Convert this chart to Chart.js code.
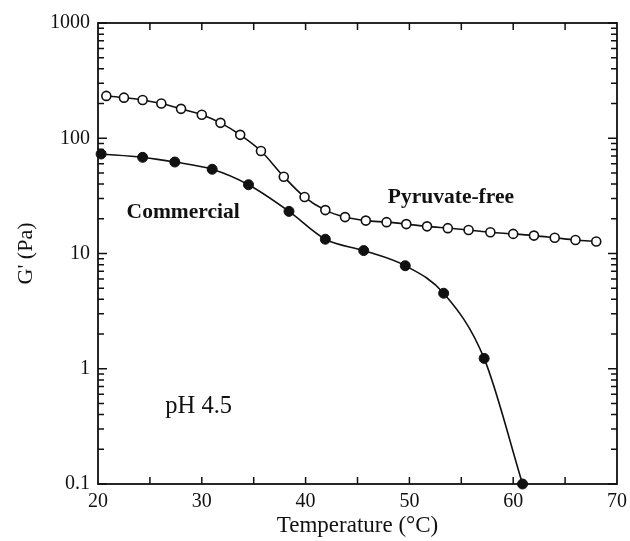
<!DOCTYPE html>
<html>
<head>
<meta charset="utf-8">
<script src="https://cdn.jsdelivr.net/npm/chart.js@4.4.1/dist/chart.umd.min.js"></script>
<style>
  html, body { margin: 0; padding: 0; background: #fff; }
  #wrap { width: 630px; height: 541px; position: relative; }
</style>
</head>
<body>
<div id="wrap"><canvas id="c" width="630" height="541"></canvas></div>
<script>
// Storage modulus G' versus temperature, pH 4.5
const pyruvateFreeTemp = [20.8, 22.5, 24.3, 26.1, 28.0, 30.0, 31.8, 33.7, 35.7, 37.9, 39.9, 41.9, 43.8,
                          45.8, 47.8, 49.7, 51.7, 53.7, 55.7, 57.8, 60.0, 62.0, 64.0, 66.0, 68.0];
const pyruvateFreeG = [233, 225, 215, 200, 180, 160, 136, 107, 77.5, 46.4, 30.9, 23.8, 20.7,
                       19.3, 18.7, 18.0, 17.2, 16.6, 16.0, 15.3, 14.8, 14.3, 13.7, 13.1, 12.7];
const commercialTemp = [20.3, 24.3, 27.4, 31.0, 34.5, 38.4, 41.9, 45.6, 49.6, 53.3, 57.2, 60.9];
const commercialG = [73, 68.3, 62.2, 53.8, 39.5, 23.2, 13.3, 10.6, 7.83, 4.52, 1.23, 0.1];

const xTickLabels = [20, 30, 40, 50, 60, 70];
const yTickLabels = [0.1, 1, 10, 100, 1000];

// text placed inside the plot, anchored in data coordinates
const notes = [
  { text: 'Commercial', x: 28.2, y: 22.9, bold: true, size: 21.5 },
  { text: 'Pyruvate-free', x: 54.0, y: 30.9, bold: true, size: 21.5 },
  { text: 'pH 4.5', x: 29.7, y: 0.466, bold: false, size: 24.5 }
];

const SERIF = '"Liberation Serif", "DejaVu Serif", serif';

function toPoints(xs, ys) { return xs.map((x, i) => ({ x: x, y: ys[i] })); }

// frame, inward tick marks on all four sides, and annotations
const framePlugin = {
  id: 'frame',
  beforeDatasetsDraw(chart) {
    const { ctx, chartArea: a, scales } = chart;
    const xs = scales.x, ys = scales.y;
    ctx.save();
    ctx.strokeStyle = '#111';
    ctx.lineWidth = 1.8;
    ctx.strokeRect(a.left, a.top, a.right - a.left, a.bottom - a.top);
    ctx.lineWidth = 1.5;
    ctx.beginPath();
    for (let t = 25; t < 70; t += 5) {
      const px = xs.getPixelForValue(t);
      ctx.moveTo(px, a.bottom); ctx.lineTo(px, a.bottom - 7);
      ctx.moveTo(px, a.top); ctx.lineTo(px, a.top + 7);
    }
    for (let e = -1; e <= 3; e++) {
      for (let m = 1; m <= 9; m++) {
        const v = m * Math.pow(10, e);
        if (v > 1000.0001) continue;
        const py = ys.getPixelForValue(v);
        const len = m === 1 ? 9 : 6;
        ctx.moveTo(a.left, py); ctx.lineTo(a.left + len, py);
        ctx.moveTo(a.right, py); ctx.lineTo(a.right - len, py);
      }
    }
    ctx.stroke();
    ctx.restore();
  },
  afterDraw(chart) {
    const { ctx, scales } = chart;
    ctx.save();
    ctx.fillStyle = '#111';
    ctx.textAlign = 'center';
    ctx.textBaseline = 'middle';
    notes.forEach(n => {
      ctx.font = (n.bold ? 'bold ' : '') + n.size + 'px ' + SERIF;
      ctx.fillText(n.text, scales.x.getPixelForValue(n.x), scales.y.getPixelForValue(n.y));
    });
    ctx.restore();
  }
};

new Chart(document.getElementById('c'), {
  type: 'line',
  data: {
    datasets: [
      {
        label: 'Pyruvate-free',
        data: toPoints(pyruvateFreeTemp, pyruvateFreeG),
        borderColor: '#111',
        borderWidth: 1.6,
        backgroundColor: '#fff',
        pointBackgroundColor: '#fff',
        pointBorderColor: '#111',
        pointBorderWidth: 1.6,
        pointRadius: 4.5,
        cubicInterpolationMode: 'monotone',
        clip: false
      },
      {
        label: 'Commercial',
        data: toPoints(commercialTemp, commercialG),
        borderColor: '#111',
        borderWidth: 1.6,
        backgroundColor: '#111',
        pointBackgroundColor: '#111',
        pointBorderColor: '#111',
        pointBorderWidth: 1,
        pointRadius: 5,
        cubicInterpolationMode: 'monotone',
        clip: false
      }
    ]
  },
  options: {
    responsive: false,
    animation: false,
    devicePixelRatio: 1,
    layout: { padding: { left: 0, top: 23, right: 13, bottom: 0 } },
    plugins: { legend: { display: false }, tooltip: { enabled: false } },
    scales: {
      x: {
        type: 'linear',
        min: 20, max: 70,
        afterBuildTicks(scale) { scale.ticks = xTickLabels.map(v => ({ value: v })); },
        afterFit(scale) {
          scale.height = 57;
          scale.paddingLeft = 0;
          scale.paddingRight = 0;
        },
        grid: { display: false, drawTicks: false },
        border: { display: false },
        ticks: {
          color: '#111',
          font: { family: SERIF, size: 20 },
          padding: 6,
          maxRotation: 0,
          autoSkip: false
        },
        title: {
          display: true,
          text: 'Temperature (°C)',
          color: '#111',
          font: { family: SERIF, size: 23 },
          padding: { top: 0, bottom: 1 }
        }
      },
      y: {
        type: 'logarithmic',
        min: 0.1, max: 1000,
        afterBuildTicks(scale) { scale.ticks = yTickLabels.map(v => ({ value: v })); },
        afterFit(scale) {
          scale.width = 98;
          scale.paddingTop = 0;
          scale.paddingBottom = 0;
        },
        grid: { display: false, drawTicks: false },
        border: { display: false },
        ticks: {
          color: '#111',
          font: { family: SERIF, size: 20 },
          padding: 8,
          autoSkip: false,
          callback: (v) => String(v)
        },
        title: {
          display: true,
          text: "G' (Pa)",
          color: '#111',
          font: { family: SERIF, size: 22 },
          padding: { top: 13, bottom: 0 }
        }
      }
    }
  },
  plugins: [framePlugin]
});
</script>
</body>
</html>
